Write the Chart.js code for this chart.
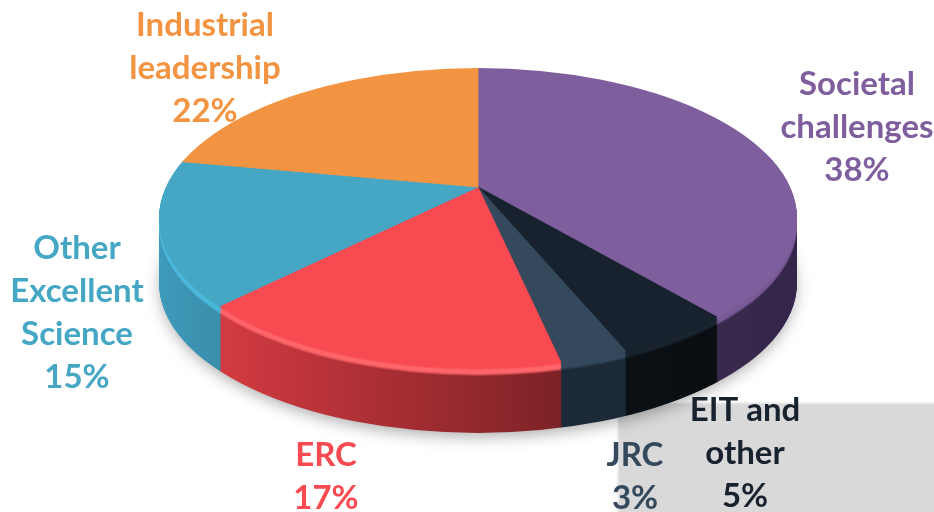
<!DOCTYPE html>
<html lang="en">
<head>
<meta charset="UTF-8">
<title>Budget shares</title>
<script src="https://cdn.jsdelivr.net/npm/chart.js@4"></script>
<style>
    html, body { margin: 0; background: #fff; overflow: hidden; }
    #grayBox { position: absolute; left: 618px; top: 403px; width: 330px; height: 125px; background: #d9d9d9; filter: blur(1px); }
    #pie { position: absolute; left: 0; top: 0; filter: blur(0.6px); }
</style>
</head>
<body>
<div id="grayBox"></div>
<canvas id="pie" width="934" height="512"></canvas>
<script>
// values, clockwise from 12 o'clock
const categories = ['Societal challenges', 'EIT and other', 'JRC', 'ERC', 'Other Excellent Science', 'Industrial leadership'];
const shares = [38, 5, 3, 17, 15, 22];
const labelLines = [['Societal', 'challenges'], ['EIT and', 'other'], ['JRC'], ['ERC'], ['Other', 'Excellent', 'Science'], ['Industrial', 'leadership']];

const topColors = ['#7e5e9c', '#18222e', '#34495c', '#f84a51', '#45a7c4', '#f29442'];
const rimColors = ['#7a5b98', '#1a2530', '#34495c', '#ff666b', '#4dbadd', '#f29442'];
const sideLeft = ['#3a2a4e', '#0b1116', '#1c2a38', '#d63b42', '#3f9bbb', '#b06a2c'];
const sideRight = ['#33264a', '#0a0e12', '#1c2a38', '#7c2226', '#3a8fad', '#b06a2c'];
const sideSpan = [[717, 797], [622, 717], [567, 622], [215, 567], [160, 215], [160, 478]];

// label anchors: centre x and first baseline
const labelX = [857, 745, 635, 326, 77, 205];
const labelY = [95, 421, 466, 466, 259, 36];
const lineGap = 43;

// pie geometry in the photo
const apexX = 478, apexY = 187;
const rimX = 319, rimCy = 218, rimRy = 150;
const depth = 65;
const scaleUp = 0.45, scaleDown = 0.5, shearDown = -0.02;

function ellipseClip(ctx, off) {
    ctx.beginPath();
    ctx.ellipse(apexX, rimCy + off, rimX, rimRy, 0, 0, Math.PI * 2);
    ctx.clip();
}

// one layer of the pie, squashed, top and bottom half separately
function drawLayer(chart, off, styleFor, alpha) {
    const ctx = chart.ctx;
    const arcs = chart.getDatasetMeta(0).data;
    [[0, apexY + off, scaleUp, 0], [apexY + off, 512 - apexY - off, scaleDown, shearDown]].forEach(([y, h, s, k]) => {
        ctx.save();
        ctx.globalAlpha = alpha === undefined ? 1 : alpha;
        ellipseClip(ctx, off);
        ctx.beginPath();
        ctx.rect(0, y, 934, h);
        ctx.clip();
        ctx.translate(apexX, apexY + off);
        ctx.transform(1, 0, k, s, 0, 0);
        ctx.translate(-arcs[0].x, -arcs[0].y);
        arcs.forEach((arc, i) => {
            const saved = arc.options;
            const fill = styleFor(i, ctx, arc.x - apexX);
            arc.options = Object.assign(Object.create(saved), { backgroundColor: fill, borderColor: fill, borderWidth: alpha === undefined ? 1 : 0 });
            arc.draw(ctx);
            arc.options = saved;
        });
        ctx.restore();
    });
}

const pie3d = {
    id: 'pie3d',
    beforeDatasetsDraw(chart) {
        const ctx = chart.ctx;
        // soft shadow under the pie
        ctx.save();
        ctx.shadowColor = 'rgba(0,0,0,0.35)';
        ctx.shadowBlur = 16;
        ctx.shadowOffsetY = 4;
        ctx.fillStyle = '#555';
        ctx.beginPath();
        ctx.ellipse(apexX, rimCy + depth, rimX - 2, rimRy - 1, 0, 0, Math.PI * 2);
        ctx.fill();
        ctx.restore();

        const sideStyle = (i, c, dx) => {
            const g = c.createLinearGradient(sideSpan[i][0] + dx, 0, sideSpan[i][1] + dx, 0);
            g.addColorStop(0, sideLeft[i]);
            g.addColorStop(1, sideRight[i]);
            return g;
        };
        const rimStyle = i => rimColors[i];
        const topStyle = i => topColors[i];
        for (let d = depth; d > 0; d--) drawLayer(chart, d, sideStyle);
        // soft bevel between side and top
        drawLayer(chart, 8, rimStyle, 0.35);
        drawLayer(chart, 7, rimStyle, 0.6);
        drawLayer(chart, 6, rimStyle, 0.85);
        for (let d = 5; d > 2; d--) drawLayer(chart, d, rimStyle);
        drawLayer(chart, 2, topStyle, 0.5);
        drawLayer(chart, 1, topStyle, 0.8);
        drawLayer(chart, 0, topStyle);
        return false;
    },
    afterDraw(chart) {
        const ctx = chart.ctx;
        ctx.save();
        ctx.font = 'bold 33px Lato';
        ctx.textAlign = 'center';
        categories.forEach((name, i) => {
            ctx.fillStyle = topColors[i];
            const lines = labelLines[i].concat(shares[i] + '%');
            lines.forEach((t, k) => ctx.fillText(t, labelX[i], labelY[i] + k * lineGap));
        });
        ctx.restore();
    }
};

new Chart(document.getElementById('pie'), {
    type: 'pie',
    data: {
        labels: categories,
        datasets: [{ data: shares, backgroundColor: topColors, borderColor: topColors, borderWidth: 1 }]
    },
    options: {
        responsive: false,
        animation: false,
        radius: 420,
        plugins: { legend: { display: false }, tooltip: { enabled: false } }
    },
    plugins: [pie3d]
});
</script>
</body>
</html>
